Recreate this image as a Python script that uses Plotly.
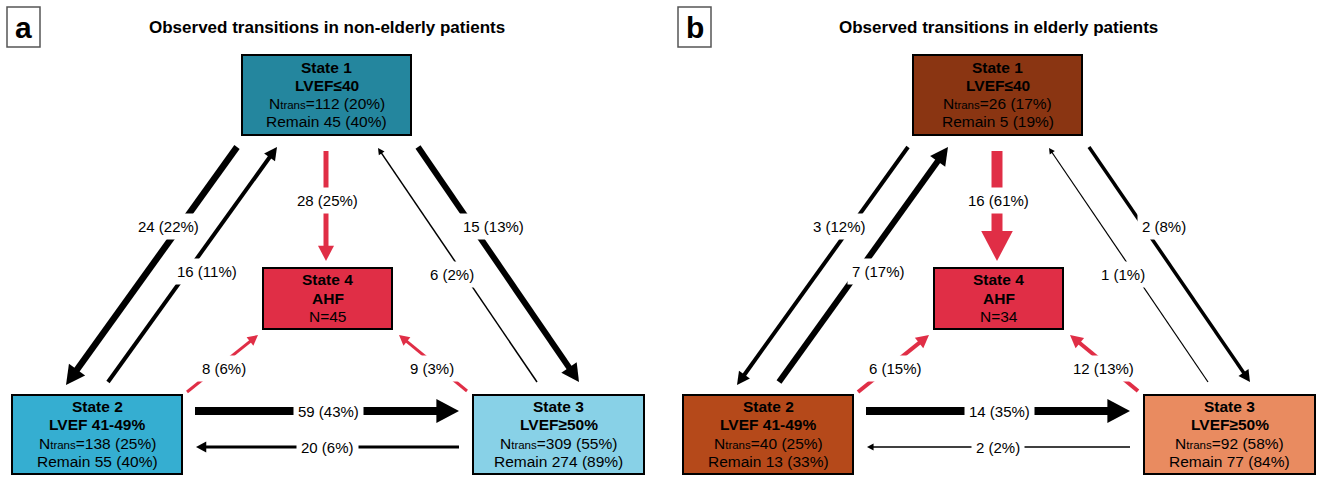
import plotly.graph_objects as go
import math

# ---------------- data ----------------
panel_letters = ["a", "b"]
panel_titles = ["Observed transitions in non-elderly patients",
                "Observed transitions in elderly patients"]
state_names = ["State 1", "State 2", "State 3", "State 4"]
state_labels = ["LVEF≤40", "LVEF 41-49%", "LVEF≥50%", "AHF"]
ntrans = [[112, 138, 309], [26, 40, 92]]
ntrans_pct = [[20, 25, 55], [17, 25, 58]]
remain = [[45, 55, 274], [5, 13, 77]]
remain_pct = [[40, 40, 89], [19, 33, 84]]
ahf_n = [45, 34]
transitions = [(1, 2), (2, 1), (1, 4), (1, 3), (3, 1), (2, 4), (3, 4), (2, 3), (3, 2)]
trans_counts = [[24, 16, 28, 15, 6, 8, 9, 59, 20],
                [3, 7, 16, 2, 1, 6, 12, 14, 2]]
trans_pct = [[22, 11, 25, 13, 2, 6, 3, 43, 6],
             [12, 17, 61, 8, 1, 15, 13, 35, 2]]

# ---------------- styles ----------------
box_colors = [["#24869E", "#35AED1", "#88D1E7", "#E02E46"],
              ["#8A3512", "#B5491A", "#E98B60", "#E02E46"]]
red = "#E02E46"
arrow_widths = [[6.5, 4, 5, 6, 1.5, 3, 3, 8, 3],
                [4, 6, 11, 3.5, 1.2, 4, 4, 8, 1.5]]

# ---------------- layout geometry (panel a; panel b shifted) ----------------
W, H = 1317, 478
panel_dx = [0, 671]
boxes = {1: (242, 411, 55, 135), 2: (12, 182, 395, 474),
         3: (473, 644, 395, 474), 4: (263, 392, 268, 329)}
arrow_pts = [((237, 147), (66, 385)), ((108, 382), (277, 147)),
             ((326, 151), (326, 261)), ((418, 147), (579, 382)),
             ((537, 382), (378, 148)), ((187, 392), (258, 335)),
             ((467, 391), (399, 335)), ((195, 411), (459, 411)),
             ((459, 447), (196, 447))]
label_pts = [(168, 226), (207, 271), (327, 200), (493, 226), (452, 274),
             (224, 368), (432, 368), (328, 411), (327, 447)]
title_pos = (327, 27)
letter_box = (7, 40, 7, 47)
LINE_STEP = 18.2

FONT = "Arial, Liberation Sans, Helvetica, sans-serif"

fig = go.Figure()
fig.add_trace(go.Scatter(x=[0, W], y=[0, H], mode="markers",
                         marker=dict(opacity=0), hoverinfo="skip", showlegend=False))

shapes = []
annotations = []

for p in range(2):
    dx = panel_dx[p]
    # panel letter box
    x0, x1, y0, y1 = letter_box
    shapes.append(dict(type="rect", xref="x", yref="y", x0=x0 + dx, x1=x1 + dx, y0=y0, y1=y1,
                       line=dict(color="#555555", width=1.5), fillcolor="white"))
    annotations.append(dict(x=(x0 + x1) / 2 + dx, y=(y0 + y1) / 2, xref="x", yref="y",
                            text=f"<b>{panel_letters[p]}</b>", showarrow=False,
                            font=dict(size=30, color="black", family=FONT)))
    annotations.append(dict(x=title_pos[0] + dx, y=title_pos[1], xref="x", yref="y",
                            text=f"<b>{panel_titles[p]}</b>", showarrow=False,
                            font=dict(size=17, color="black", family=FONT)))

    # arrows
    for i, (a, b) in enumerate(transitions):
        (sx, sy), (tx, ty) = arrow_pts[i]
        sx += dx
        tx += dx
        w = arrow_widths[p][i]
        col = red if b == 4 else "black"
        L = math.hypot(tx - sx, ty - sy)
        ux, uy = (tx - sx) / L, (ty - sy) / L
        hw = 2.6 * w + 3
        hl = hw * 0.95
        bx, by = tx - hl * ux, ty - hl * uy
        nx, ny = -uy, ux
        shapes.append(dict(type="line", xref="x", yref="y", x0=sx, y0=sy,
                           x1=bx + ux, y1=by + uy, line=dict(color=col, width=w)))
        path = (f"M {tx:.2f},{ty:.2f} L {bx + nx * hw / 2:.2f},{by + ny * hw / 2:.2f} "
                f"L {bx - nx * hw / 2:.2f},{by - ny * hw / 2:.2f} Z")
        shapes.append(dict(type="path", xref="x", yref="y", path=path,
                           fillcolor=col, line=dict(width=0)))
        lx, ly = label_pts[i]
        annotations.append(dict(x=lx + dx, y=ly, xref="x", yref="y",
                                text=f"{trans_counts[p][i]} ({trans_pct[p][i]}%)",
                                showarrow=False, bgcolor="white", borderpad=4,
                                font=dict(size=15, color="black", family=FONT)))

    # state boxes
    for s in range(1, 5):
        x0, x1, y0, y1 = boxes[s]
        shapes.append(dict(type="rect", xref="x", yref="y", x0=x0 + dx, x1=x1 + dx,
                           y0=y0, y1=y1, fillcolor=box_colors[p][s - 1],
                           line=dict(color="black", width=2)))
        if s < 4:
            lines = [f"<b>{state_names[s-1]}</b>", f"<b>{state_labels[s-1]}</b>",
                     f"N<span style='font-size:11.5px'>trans</span>={ntrans[p][s-1]} ({ntrans_pct[p][s-1]}%)",
                     f"Remain {remain[p][s-1]} ({remain_pct[p][s-1]}%)"]
        else:
            lines = [f"<b>{state_names[3]}</b>", f"<b>{state_labels[3]}</b>", f"N={ahf_n[p]}"]
        cy = (y0 + y1) / 2 - 0.5
        n = len(lines)
        for k, t in enumerate(lines):
            annotations.append(dict(x=(x0 + x1) / 2 + dx,
                                    y=cy + (k - (n - 1) / 2) * LINE_STEP,
                                    xref="x", yref="y", text=t, showarrow=False,
                                    font=dict(size=15.5, color="black", family=FONT)))

fig.update_layout(
    width=W, height=H, margin=dict(l=0, r=0, t=0, b=0),
    paper_bgcolor="white", plot_bgcolor="white",
    xaxis=dict(range=[0, W], visible=False, fixedrange=True),
    yaxis=dict(range=[H, 0], visible=False, fixedrange=True),
    shapes=shapes, annotations=annotations, showlegend=False,
)
fig.write_html("out.html", config={"displayModeBar": False, "staticPlot": True},
               post_script="document.body.style.margin='0';document.body.style.overflow='hidden';")
